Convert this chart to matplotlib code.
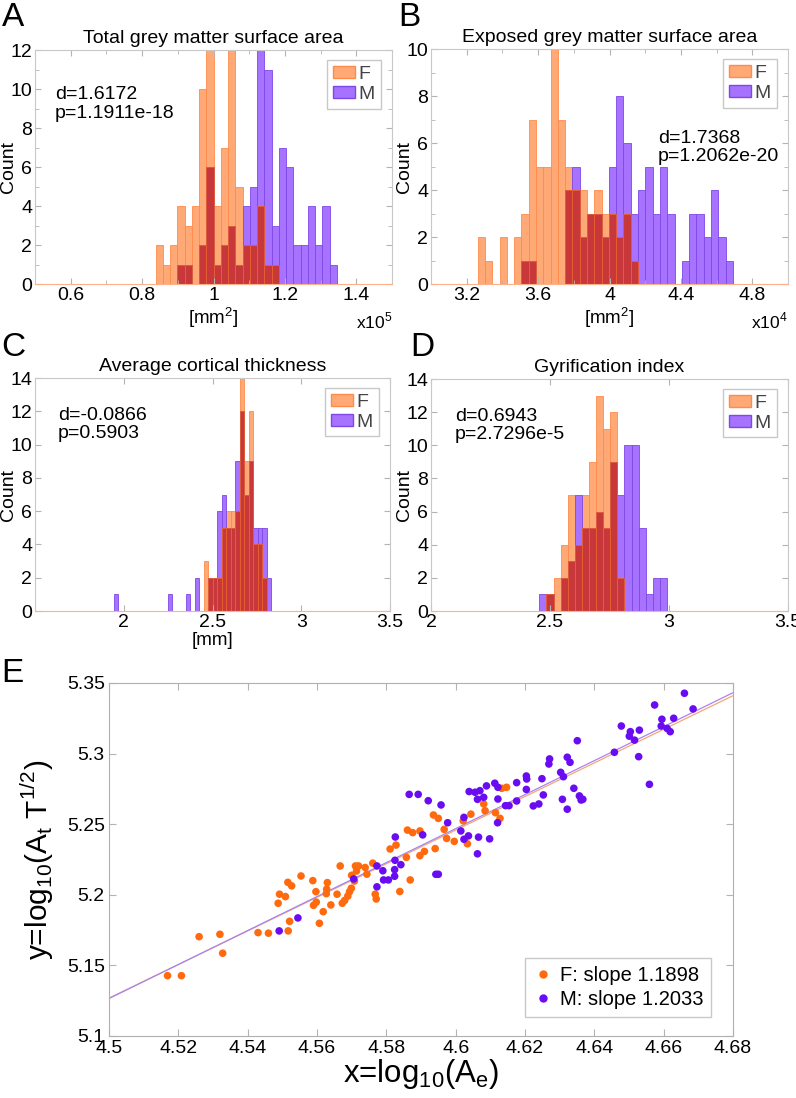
import numpy as np
import matplotlib.pyplot as plt
from matplotlib.ticker import MultipleLocator
from matplotlib.patches import Patch
from matplotlib.lines import Line2D

plt.rcParams['font.family'] = ['Liberation Sans', 'DejaVu Sans']

# ---- histogram data (counts per bin) ----
a_start, a_width = 0.838, 0.0203
a_f = [2, 1, 2, 4, 3, 4, 10, 12, 4, 7, 12, 5, 2, 2, 4, 1, 1, 0, 0, 0, 0, 0, 0, 0, 0]
a_m = [0, 0, 0, 1, 1, 0, 2, 6, 1, 2, 3, 1, 4, 5, 12, 11, 3, 7, 6, 2, 2, 4, 2, 4, 1]

b_start, b_width = 3.261, 0.04086
b_f = [2, 1, 0, 2, 0, 2, 3, 7, 5, 5, 10, 7, 5, 4, 4, 3, 4, 3, 3, 2, 3, 1,
       0, 0, 0, 0, 0, 0, 0, 0, 0, 0, 0, 0, 0]
b_m = [0, 0, 0, 0, 0, 0, 1, 1, 0, 0, 0, 0, 4, 5, 2, 3, 3, 2, 5, 8, 6, 3,
       4, 5, 3, 5, 3, 0, 1, 3, 3, 2, 4, 2, 1]

c_start, c_width = 1.944, 0.0253
c_f = [0] * 20 + [3, 2, 2, 2, 5, 6, 6, 6, 14, 9, 12, 4, 4, 2, 0]
c_m = [1, 0, 0, 0, 0, 0, 0, 0, 0, 0, 0, 0, 1, 0, 0, 0, 1, 0, 2, 0,
       0, 2, 2, 6, 7, 5, 5, 9, 12, 7, 9, 5, 5, 5, 2]

d_start, d_width = 2.455, 0.0298
d_f = [0, 1, 2, 4, 7, 4, 7, 9, 13, 11, 12, 2, 0, 0, 0, 0, 0, 0]
d_m = [1, 1, 0, 2, 3, 7, 5, 5, 6, 5, 9, 7, 10, 10, 5, 1, 2, 2]

# ---- scatter data ----
f_x = [4.5169, 4.5209, 4.5260, 4.5320, 4.5328, 4.5430, 4.5460, 4.5517, 4.5521, 4.5488,
       4.5492, 4.5509, 4.5516, 4.5527, 4.5554, 4.5588, 4.5590, 4.5598, 4.5607, 4.5618,
       4.5630, 4.5628, 4.5627, 4.5597, 4.5640, 4.5658, 4.5667, 4.5673, 4.5680, 4.5689,
       4.5694, 4.5699, 4.5700, 4.5708, 4.5711, 4.5720, 4.5714, 4.5739, 4.5744, 4.5761,
       4.5768, 4.5771, 4.5811, 4.5828, 4.5839, 4.5858, 4.5861, 4.5876, 4.5897, 4.5869,
       4.5897, 4.5910, 4.5936, 4.5950, 4.5941, 4.5967, 4.5974, 4.5996, 4.6022, 4.6034,
       4.6044, 4.6081, 4.6085, 4.6115, 4.6128, 4.6133, 4.6147]
f_y = [5.1427, 5.1427, 5.1703, 5.1720, 5.1586, 5.1732, 5.1728, 5.1744, 5.1812, 5.1940,
       5.2004, 5.1987, 5.2088, 5.2063, 5.2133, 5.2100, 5.1925, 5.1948, 5.1798, 5.1880,
       5.2086, 5.2040, 5.2008, 5.2022, 5.1928, 5.2004, 5.2204, 5.1940, 5.1960, 5.1991,
       5.2022, 5.2046, 5.2138, 5.2097, 5.2204, 5.2204, 5.2168, 5.2193, 5.2146, 5.2224,
       5.2004, 5.1970, 5.2324, 5.2352, 5.2023, 5.2265, 5.2458, 5.2440, 5.2452, 5.2105,
       5.2277, 5.2307, 5.2565, 5.2541, 5.2327, 5.2463, 5.2399, 5.2378, 5.2524, 5.2361,
       5.2571, 5.2643, 5.2595, 5.2581, 5.2541, 5.2754, 5.2761]

m_x = [4.5491, 4.5545, 4.5706, 4.5773, 4.5773, 4.5790, 4.5792, 4.5806, 4.5826, 4.5825,
       4.5842, 4.5824, 4.5824, 4.5866, 4.5892, 4.5921, 4.5958, 4.5977, 4.5905, 4.5943,
       4.5950, 4.6015, 4.6024, 4.6037, 4.6024, 4.6039, 4.6056, 4.6070, 4.6063, 4.6081,
       4.6066, 4.6063, 4.6098, 4.6089, 4.6113, 4.6122, 4.6122, 4.6121, 4.6144, 4.6154,
       4.6176, 4.6176, 4.6204, 4.6205, 4.6204, 4.6224, 4.6240, 4.6249, 4.6253, 4.6271,
       4.6269, 4.6303, 4.6311, 4.6308, 4.6322, 4.6330, 4.6341, 4.6322, 4.6351, 4.6357,
       4.6362, 4.6367, 4.6458, 4.6478, 4.6504, 4.6501, 4.6516, 4.6530, 4.6528, 4.6559,
       4.6574, 4.6595, 4.6629, 4.6593, 4.6610, 4.6619, 4.6660, 4.6685]
m_y = [5.1744, 5.1836, 5.2112, 5.2204, 5.2056, 5.2170, 5.2105, 5.2105, 5.2409, 5.2244,
       5.2213, 5.2178, 5.2131, 5.2711, 5.2711, 5.2666, 5.2636, 5.2510, 5.2424, 5.2145,
       5.2145, 5.2452, 5.2393, 5.2417, 5.2548, 5.2731, 5.2726, 5.2737, 5.2676, 5.2690,
       5.2408, 5.2290, 5.2396, 5.2771, 5.2790, 5.2761, 5.2678, 5.2510, 5.2631, 5.2631,
       5.2794, 5.2664, 5.2841, 5.2820, 5.2746, 5.2629, 5.2643, 5.2822, 5.2707, 5.2962,
       5.2926, 5.2867, 5.2836, 5.2676, 5.2974, 5.2938, 5.2754, 5.2606, 5.3091, 5.2700,
       5.2671, 5.2676, 5.3009, 5.3195, 5.3155, 5.3123, 5.3095, 5.3166, 5.2978, 5.2782,
       5.3344, 5.3243, 5.3250, 5.3195, 5.3178, 5.3155, 5.3427, 5.3316]

# fitted lines: slope and value at x=4.5
f_slope, f_y0 = 1.1898, 5.1268
m_slope, m_y0 = 1.2033, 5.1265

F_FACE, F_EDGE = '#ffaa76', '#ff8a4a'
M_FACE, M_EDGE = '#a772ff', '#7e48e6'
OV_FACE, OV_EDGE = '#c8383a', '#e8602e'
GREY = '#b4b4b4'

fig = plt.figure(figsize=(7.96, 10.98), dpi=100)


def hist_panel(rect, start, width, fc, mc, xlim, ylim, xmaj, xmin, ymin_step,
               title, stat, stat_pos, xlabel=None, mult=None):
    ax = fig.add_axes(rect)
    edges = start + width * np.arange(len(fc))
    fc = np.array(fc)
    mc = np.array(mc)
    ov = np.minimum(fc, mc)
    ax.bar(edges, fc, width=width, align='edge', color=F_FACE, edgecolor=F_EDGE, lw=0.6)
    ax.bar(edges, mc, width=width, align='edge', color=M_FACE, edgecolor=M_EDGE, lw=0.6)
    ax.bar(edges, ov, width=width, align='edge', color=OV_FACE, edgecolor=OV_EDGE, lw=0.6)
    ax.set_xlim(xlim)
    ax.set_ylim(ylim)
    ax.set_xticks(xmaj)
    ax.set_xticklabels([('%g' % v) for v in xmaj])
    if xmin is not None:
        ax.xaxis.set_minor_locator(MultipleLocator(xmin))
    ax.yaxis.set_major_locator(MultipleLocator(2))
    if ymin_step:
        ax.yaxis.set_minor_locator(MultipleLocator(ymin_step))
    ax.tick_params(which='both', direction='in', top=True, right=True,
                   color=GREY, labelsize=14, pad=2)
    ax.tick_params(which='major', length=4)
    ax.tick_params(which='minor', length=3)
    for s in ax.spines.values():
        s.set_color('#c8c8c8')
    ax.spines['bottom'].set_color('#ffb088')
    ax.set_title(title, fontsize=14, pad=5)
    ax.set_ylabel('Count', fontsize=14)
    ax.yaxis.set_label_coords(-0.05, 0.5)
    ax.text(stat_pos[0], stat_pos[1], stat, transform=ax.transAxes, fontsize=14,
            va='top', ha='left', linespacing=1.1)
    handles = [Patch(facecolor=F_FACE, edgecolor=F_EDGE), Patch(facecolor=M_FACE, edgecolor=M_EDGE)]
    leg = ax.legend(handles, ['F', 'M'], loc='upper right', bbox_to_anchor=(0.968, 0.958),
                    borderaxespad=0, fontsize=14, handlelength=1.1, handleheight=0.6,
                    handletextpad=0.2, fancybox=False, framealpha=1, borderpad=0.3,
                    labelspacing=0.15)
    leg.get_frame().set_edgecolor('#c8c8c8')
    for t in leg.get_texts():
        t.set_color('#444444')
    if xlabel:
        ax.set_xlabel(xlabel, fontsize=13.5, labelpad=1)
    if mult:
        ax.text(1.0, -0.115, mult, transform=ax.transAxes, fontsize=12.5, ha='right', va='top')
    return ax


hist_panel([0.044, 0.7413, 0.4485, 0.2131], a_start, a_width, a_f, a_m,
           (0.5, 1.5), (0, 12), [0.6, 0.8, 1.0, 1.2, 1.4], 0.1, 1,
           'Total grey matter surface area', 'd=1.6172\np=1.1911e-18', (0.056, 0.845),
           '[mm$^{\\mathregular{2}}$]', 'x10$^{\\mathregular{5}}$')
hist_panel([0.5415, 0.7413, 0.4485, 0.2140], b_start, b_width, b_f, b_m,
           (3.0, 5.0), (0, 10), [3.2, 3.6, 4.0, 4.4, 4.8], 0.2, 1,
           'Exposed grey matter surface area', 'd=1.7368\np=1.2062e-20', (0.635, 0.655),
           '[mm$^{\\mathregular{2}}$]', 'x10$^{\\mathregular{4}}$')
hist_panel([0.044, 0.4435, 0.4460, 0.2122], c_start, c_width, c_f, c_m,
           (1.5, 3.5), (0, 14), [2, 2.5, 3, 3.5], None, None,
           'Average cortical thickness', 'd=-0.0866\np=0.5903', (0.064, 0.875),
           '[mm]')
hist_panel([0.5415, 0.4435, 0.4485, 0.2113], d_start, d_width, d_f, d_m,
           (2.0, 3.5), (0, 14), [2, 2.5, 3, 3.5], None, None,
           'Gyrification index', 'd=0.6943\np=2.7296e-5', (0.067, 0.875))

# ---- scatter panel ----
ax = fig.add_axes([0.1369, 0.0565, 0.7839, 0.3215])
ax.scatter(f_x, f_y, s=30, color='#ff6a0e', edgecolors='none', zorder=3)
ax.scatter(m_x, m_y, s=30, color='#6a0cf2', edgecolors='none', zorder=3)
xl = np.array([4.5, 4.68])
ax.plot(xl, f_y0 + f_slope * (xl - 4.5), color='#f7a676', lw=0.9, zorder=2)
ax.plot(xl, m_y0 + m_slope * (xl - 4.5), color='#a884f0', lw=0.9, zorder=2)
ax.set_xlim(4.5, 4.68)
ax.set_ylim(5.1, 5.35)
ax.set_xticks(np.arange(4.5, 4.681, 0.02))
ax.set_xticklabels(['4.5', '4.52', '4.54', '4.56', '4.58', '4.6', '4.62', '4.64', '4.66', '4.68'])
ax.set_yticks([5.1, 5.15, 5.2, 5.25, 5.3, 5.35])
ax.set_yticklabels(['5.1', '5.15', '5.2', '5.25', '5.3', '5.35'])
ax.tick_params(direction='in', top=True, right=True, color=GREY, length=5, labelsize=14, pad=3)
for s in ax.spines.values():
    s.set_color('#b0b0b0')
ax.set_xlabel(r'x=log$_{\mathregular{10}}$(A$_{\mathregular{e}}$)', fontsize=22.5)
ax.xaxis.set_label_coords(0.5, -0.06)
ax.set_ylabel(r'y=log$_{\mathregular{10}}$(A$_{\mathregular{t}}$ T$^{\mathregular{1/2}}$)', fontsize=21.5)
ax.yaxis.set_label_coords(-0.085, 0.5)
handles = [Line2D([], [], ls='none', marker='o', ms=5, color='#ff6a0e'),
           Line2D([], [], ls='none', marker='o', ms=5, color='#6a0cf2')]
leg = ax.legend(handles, ['F: slope 1.1898', 'M: slope 1.2033'], loc='lower right',
                bbox_to_anchor=(0.965, 0.054), borderaxespad=0, fontsize=14.5,
                handletextpad=0.3, handlelength=1.0, fancybox=False, framealpha=1,
                labelspacing=0.25)
leg.get_frame().set_edgecolor('#c8c8c8')

# panel letters
for lbl, x, y in [('A', 0.002, 0.998), ('B', 0.5, 0.998), ('C', 0.002, 0.698),
                  ('D', 0.515, 0.698), ('E', 0.002, 0.401)]:
    fig.text(x, y, lbl, fontsize=24, va='top', ha='left')

fig.savefig('out.png', dpi=100)
